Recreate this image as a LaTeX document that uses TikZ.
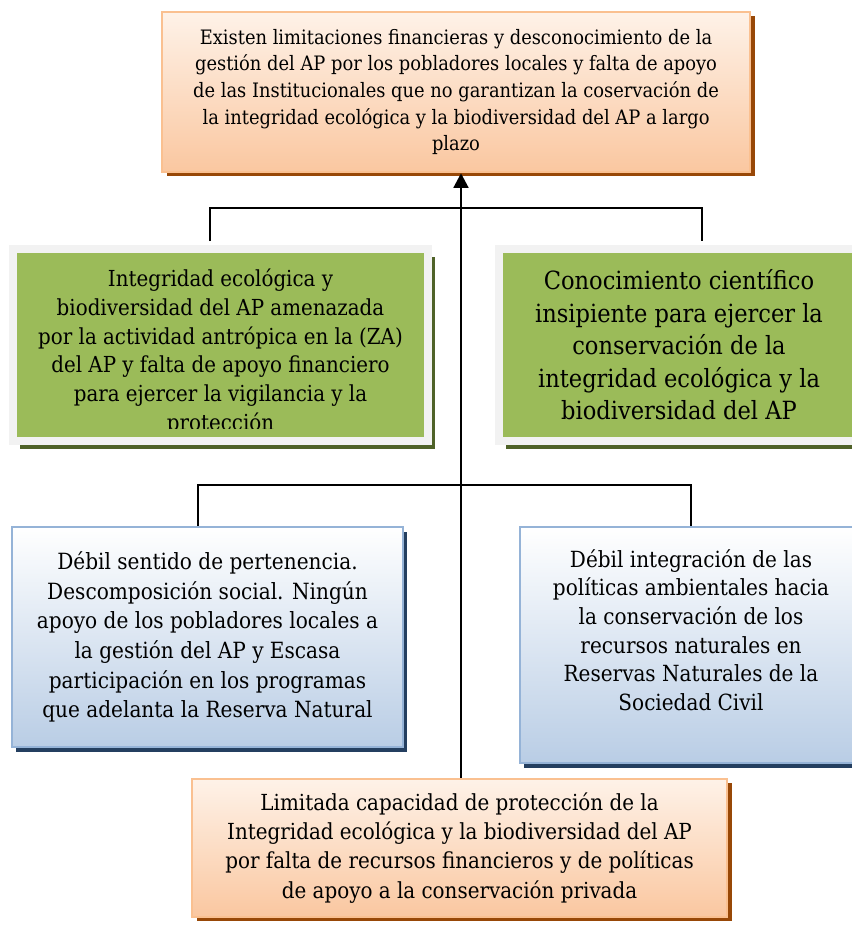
\documentclass[tikz,border=0pt]{standalone}
\usepackage{fontspec}
\setmainfont{DejaVu Serif Condensed}
\usetikzlibrary{positioning,arrows.meta,shadows}
\definecolor{peachtop}{HTML}{FEF2E8}
\definecolor{peachbot}{HTML}{FAC7A0}
\definecolor{peachline}{HTML}{FAC090}
\definecolor{peachshade}{HTML}{984807}
\definecolor{olivefill}{HTML}{9BBB59}
\definecolor{oliveframe}{HTML}{F2F2F2}
\definecolor{oliveshade}{HTML}{4F6228}
\definecolor{skybot}{HTML}{B9CDE5}
\definecolor{skyline}{HTML}{95B3D7}
\definecolor{skyshade}{HTML}{243F60}

\begin{document}
\begin{tikzpicture}[
                x=0.75pt, y=-0.75pt,
                peachbox/.style={draw=peachline, line width=1.8pt,
                                 top color=peachtop, bottom color=peachbot,
                                 drop shadow={shadow xshift=3.5pt, shadow yshift=-3.2pt,
                                              fill=peachshade, opacity=1},
                                 align=center, inner sep=0pt},
                olivebox/.style={draw=oliveframe, line width=6pt, fill=olivefill,
                                 drop shadow={shadow xshift=5.25pt, shadow yshift=-6pt,
                                              fill=oliveshade, opacity=1},
                                 align=center, inner sep=0pt},
                skybox/.style={draw=skyline, line width=1.8pt,
                               top color=white, bottom color=skybot,
                               drop shadow={shadow xshift=3pt, shadow yshift=-3.5pt,
                                            fill=skyshade, opacity=1},
                               align=center, inner sep=0pt},
                link/.style={line width=1.2pt, black},
                spine/.style={line width=2.1pt, black,
                              -{Triangle[length=11pt, width=11pt]}}
            ]
                \fill[white] (0,0) rectangle (852,926);
                \useasboundingbox (0,0) rectangle (852,926);
                \node[peachbox, minimum width=441pt, minimum height=120pt,
                      font=\fontsize{14.9pt}{20pt}\selectfont] (limits) at (456,92)
                    {Existen limitaciones financieras y desconocimiento de la\\
                     gestión del AP por los pobladores locales y falta de apoyo\\
                     de las Institucionales que no garantizan la coservación de\\
                     la integridad ecológica y la biodiversidad del AP a largo\\
                     plazo};
                \node[olivebox, minimum width=311.25pt, minimum height=144pt] (threat) at (220.5,345) {};
                \begin{scope}
                    \clip (13,253) rectangle (428,428);
                    \node[align=center, inner sep=0pt, anchor=north,
                          font=\fontsize{16.55pt}{21.5pt}\selectfont] (threattext) at (220.5,269)
                        {Integridad ecológica y\\
                         biodiversidad del AP amenazada\\
                         por la actividad antrópica en la (ZA)\\
                         del AP y falta de apoyo financiero\\
                         para ejercer la vigilancia y la\\
                         protección};
                \end{scope}
                \node[olivebox, minimum width=270pt, minimum height=144pt,
                      font=\fontsize{18.8pt}{24.4pt}\selectfont] (science) at (679,345)
                    {Conocimiento científico\\
                     insipiente para ejercer la\\
                     conservación de la\\
                     integridad ecológica y la\\
                     biodiversidad del AP};
                \node[skybox, minimum width=293.25pt, minimum height=165pt,
                      font=\fontsize{16.75pt}{22.3pt}\selectfont] (belong) at (207.5,637)
                    {Débil sentido de pertenencia.\\
                     Descomposición social. Ningún\\
                     apoyo de los pobladores locales a\\
                     la gestión del AP y Escasa\\
                     participación en los programas\\
                     que adelanta la Reserva Natural};
                \node[skybox, minimum width=256.5pt, minimum height=177pt] (policy) at (691,645) {};
                \node[align=center, inner sep=0pt,
                      font=\fontsize{16.7pt}{21.5pt}\selectfont] (policytext) at (691,630)
                    {Débil integración de las\\
                     políticas ambientales hacia\\
                     la conservación de los\\
                     recursos naturales en\\
                     Reservas Naturales de la\\
                     Sociedad Civil};
                \node[peachbox, minimum width=401.25pt, minimum height=103.5pt,
                      font=\fontsize{16.6pt}{21.8pt}\selectfont] (capacity) at (459.5,848)
                    {Limitada capacidad de protección de la\\
                     Integridad ecológica y la biodiversidad del AP\\
                     por falta de recursos financieros y de políticas\\
                     de apoyo a la conservación privada};
                \coordinate (upperleft) at (210,208);
                \coordinate (upperright) at (702,208);
                \coordinate (lowerleft) at (198,485);
                \coordinate (lowerright) at (691,485);
                \coordinate (upper) at (461,208);
                \draw[link] ([yshift=3pt]upperleft |- threat.north) -- (upperleft) -- (upperright)
                    -- ([yshift=3pt]upperright |- science.north);
                \draw[link] (lowerleft |- belong.north) -- (lowerleft) -- (lowerright) -- (policy.north);
                \draw[spine] (capacity.north -| upper) -- (limits.south -| upper);
            \end{tikzpicture}
\end{document}
